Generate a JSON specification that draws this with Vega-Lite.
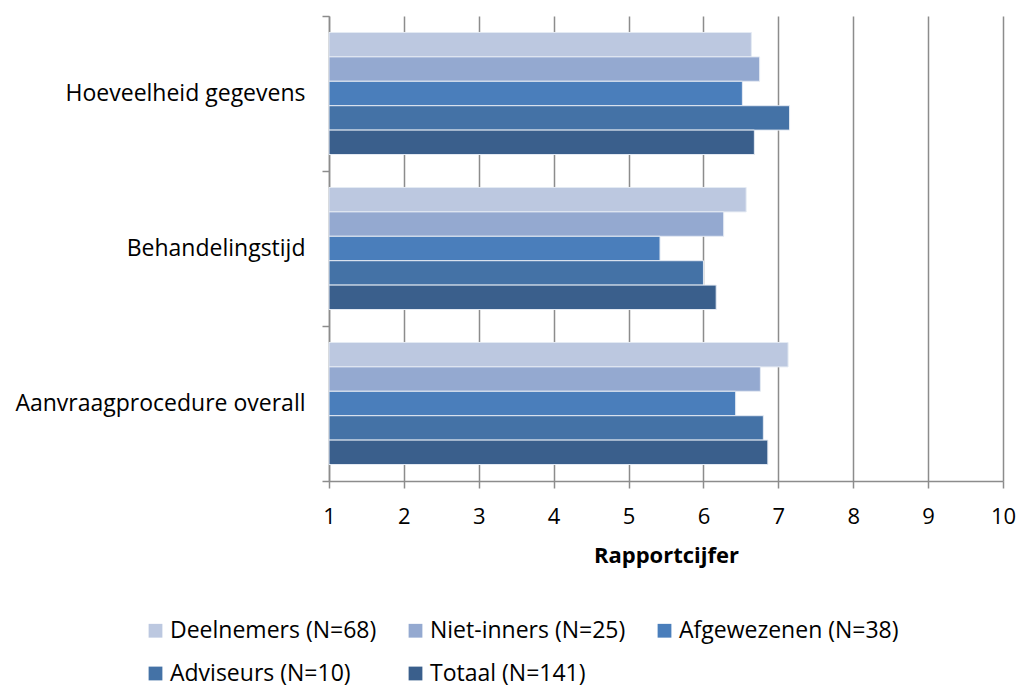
{
  "$schema": "https://vega.github.io/schema/vega-lite/v6.json",
  "width": 674,
  "height": 465,
  "autosize": "none",
  "padding": {"left": 329, "top": 16, "right": 15, "bottom": 208},
  "background": "white",
  "config": {
    "font": "Open Sans",
    "view": {"stroke": null}
  },
  "data": {
    "values": [
      {"categorie": "Hoeveelheid gegevens", "groep": "Deelnemers (N=68)", "cijfer": 6.64},
      {"categorie": "Hoeveelheid gegevens", "groep": "Niet-inners (N=25)", "cijfer": 6.75},
      {"categorie": "Hoeveelheid gegevens", "groep": "Afgewezenen (N=38)", "cijfer": 6.52},
      {"categorie": "Hoeveelheid gegevens", "groep": "Adviseurs (N=10)", "cijfer": 7.15},
      {"categorie": "Hoeveelheid gegevens", "groep": "Totaal (N=141)", "cijfer": 6.68},
      {"categorie": "Behandelingstijd", "groep": "Deelnemers (N=68)", "cijfer": 6.57},
      {"categorie": "Behandelingstijd", "groep": "Niet-inners (N=25)", "cijfer": 6.27},
      {"categorie": "Behandelingstijd", "groep": "Afgewezenen (N=38)", "cijfer": 5.42},
      {"categorie": "Behandelingstijd", "groep": "Adviseurs (N=10)", "cijfer": 6.0},
      {"categorie": "Behandelingstijd", "groep": "Totaal (N=141)", "cijfer": 6.17},
      {"categorie": "Aanvraagprocedure overall", "groep": "Deelnemers (N=68)", "cijfer": 7.13},
      {"categorie": "Aanvraagprocedure overall", "groep": "Niet-inners (N=25)", "cijfer": 6.76},
      {"categorie": "Aanvraagprocedure overall", "groep": "Afgewezenen (N=38)", "cijfer": 6.43},
      {"categorie": "Aanvraagprocedure overall", "groep": "Adviseurs (N=10)", "cijfer": 6.8},
      {"categorie": "Aanvraagprocedure overall", "groep": "Totaal (N=141)", "cijfer": 6.86}
    ]
  },
  "mark": {"type": "bar", "stroke": "#e4eaf3", "strokeWidth": 1},
  "encoding": {
    "y": {
      "field": "categorie",
      "type": "nominal",
      "sort": ["Hoeveelheid gegevens", "Behandelingstijd", "Aanvraagprocedure overall"],
      "scale": {"paddingInner": 0, "paddingOuter": 0},
      "axis": {
        "title": null,
        "tickBand": "extent",
        "domainColor": "#8c8c8c",
        "domainWidth": 1.5,
        "tickColor": "#8c8c8c",
        "tickWidth": 1.5,
        "tickSize": 7,
        "labelFontSize": 23,
        "labelColor": "#000000",
        "labelPadding": 17,
        "labelLimit": 400,
        "grid": false
      }
    },
    "yOffset": {
      "field": "groep",
      "type": "nominal",
      "sort": ["Deelnemers (N=68)", "Niet-inners (N=25)", "Afgewezenen (N=38)", "Adviseurs (N=10)", "Totaal (N=141)"],
      "scale": {"paddingInner": 0, "paddingOuter": 0.675}
    },
    "x": {
      "field": "cijfer",
      "type": "quantitative",
      "scale": {"domain": [1, 10], "zero": false, "nice": false},
      "axis": {
        "title": "Rapportcijfer",
        "titleFontSize": 22,
        "titleFontWeight": "bold",
        "titleColor": "#000000",
        "titlePadding": 18,
        "values": [1, 2, 3, 4, 5, 6, 7, 8, 9, 10],
        "format": "d",
        "labelFlush": false,
        "grid": true,
        "gridColor": "#8c8c8c",
        "gridWidth": 1.5,
        "domainColor": "#8c8c8c",
        "domainWidth": 1.5,
        "tickColor": "#8c8c8c",
        "tickWidth": 1.5,
        "tickSize": 7,
        "labelFontSize": 22,
        "labelColor": "#000000",
        "labelPadding": 18
      }
    },
    "x2": {"datum": 1},
    "color": {
      "field": "groep",
      "type": "nominal",
      "sort": ["Deelnemers (N=68)", "Niet-inners (N=25)", "Afgewezenen (N=38)", "Adviseurs (N=10)", "Totaal (N=141)"],
      "scale": {"range": ["#bcc8e0", "#94a9d0", "#4a7ebb", "#4472a6", "#3a5f8c"]},
      "legend": {
        "title": null,
        "orient": "none",
        "legendX": -185,
        "legendY": 603,
        "direction": "horizontal",
        "columns": 3,
        "columnPadding": 27,
        "rowPadding": 19,
        "symbolType": "square",
        "symbolSize": 190,
        "symbolStrokeWidth": 0,
        "labelFontSize": 23,
        "labelColor": "#000000",
        "labelOffset": 3,
        "labelLimit": 400
      }
    }
  }
}
